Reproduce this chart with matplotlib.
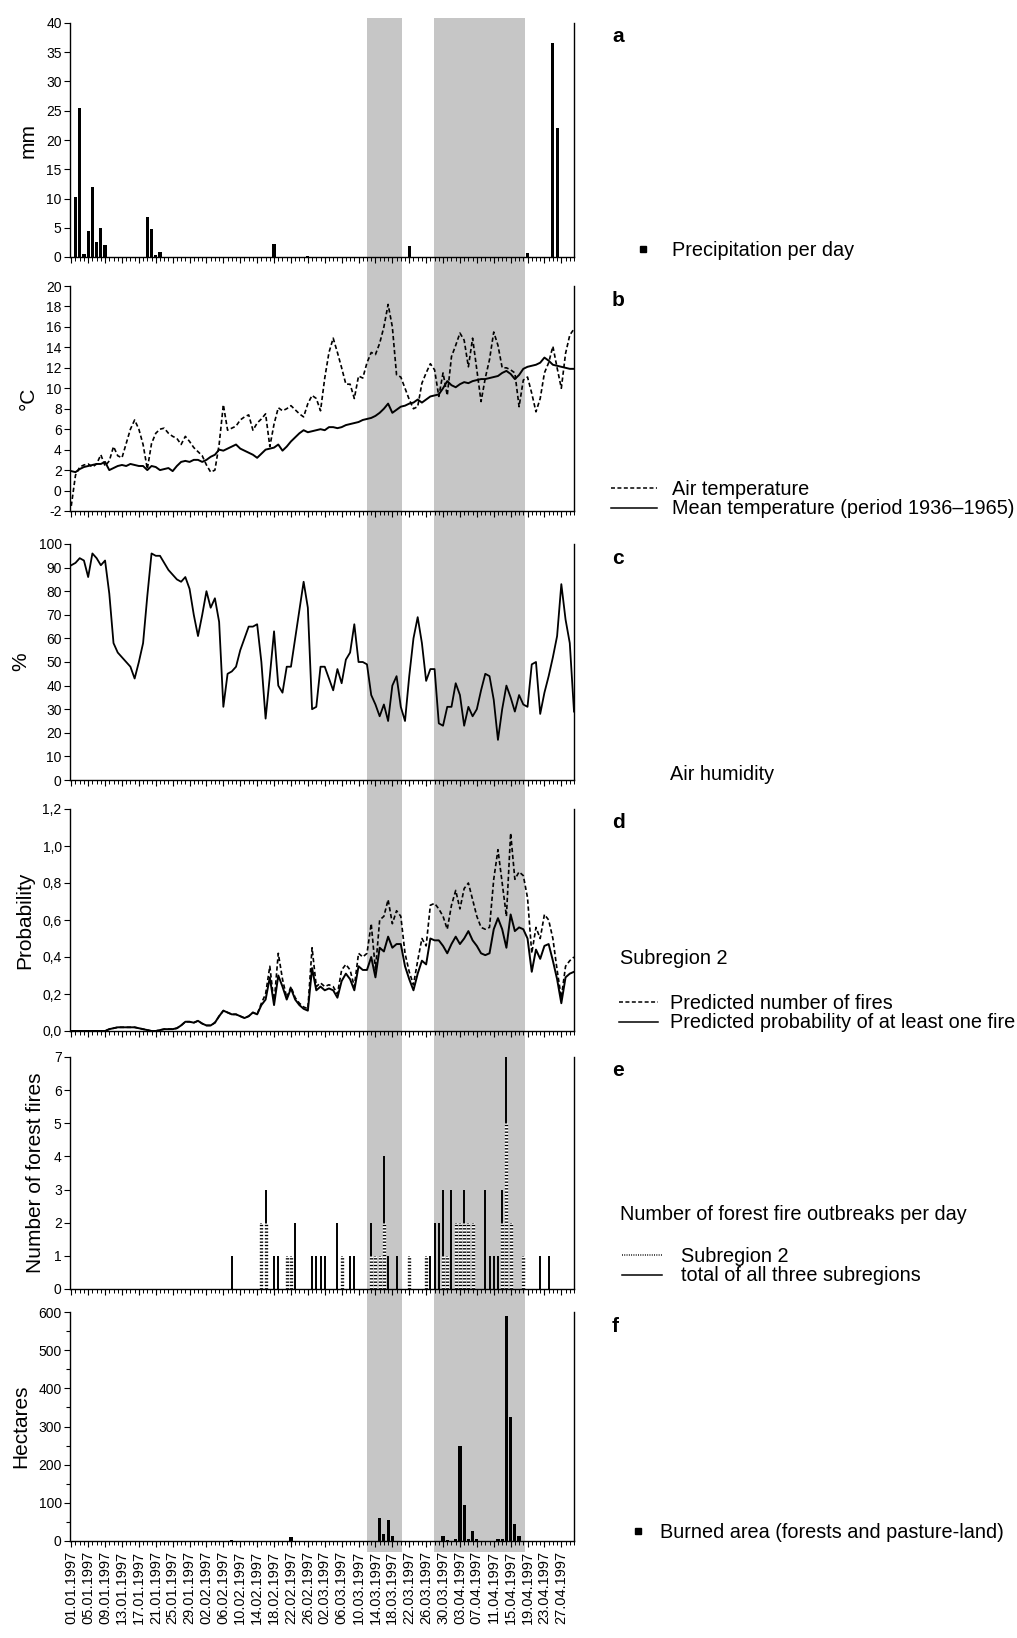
import numpy as np
import matplotlib.pyplot as plt
from matplotlib.lines import Line2D
from matplotlib.ticker import MultipleLocator, FuncFormatter

plt.rcParams['font.family'] = ['Liberation Sans', 'DejaVu Sans']
plt.rcParams['axes.unicode_minus'] = False

W, H = 1017, 1638

TICK_LABELS = ['01.01.1997', '05.01.1997', '09.01.1997', '13.01.1997', '17.01.1997',
               '21.01.1997', '25.01.1997', '29.01.1997', '02.02.1997', '06.02.1997',
               '10.02.1997', '14.02.1997', '18.02.1997', '22.02.1997', '26.02.1997',
               '02.03.1997', '06.03.1997', '10.03.1997', '14.03.1997', '18.03.1997',
               '22.03.1997', '26.03.1997', '30.03.1997', '03.04.1997', '07.04.1997',
               '11.04.1997', '15.04.1997', '19.04.1997', '23.04.1997', '27.04.1997']

# shaded periods (day index, 0 = 01.01.1997)
SHADED = [(70.0, 78.4), (85.8, 107.3)]

# a: precipitation (mm)
PRECIP_DAYS = [1, 2, 3, 4, 5, 6, 7, 8, 18, 19, 20, 21, 48, 56, 80, 108, 114, 115]
PRECIP_MM = [10.3, 25.5, 0.5, 4.5, 12.0, 2.5, 5.0, 2.0, 6.8, 4.8, 0.4, 0.8, 2.3, 0.2, 1.8, 0.7, 36.5, 22.0]

# b: temperature (daily, 120 days)
AIR_TEMP = [-1.5, 1.5, 2.3, 2.5, 2.6, 2.3, 2.6, 3.5, 2.4, 2.9,
            4.3, 3.4, 3.2, 4.6, 6.0, 6.9, 6.0, 4.5, 2.1, 4.6,
            5.6, 6.0, 6.1, 5.6, 5.3, 5.1, 4.5, 5.3, 4.8, 4.2,
            3.8, 3.4, 2.5, 1.8, 2.0, 4.5, 8.4, 5.9, 6.1, 6.3,
            6.9, 7.2, 7.4, 5.9, 6.6, 7.0, 7.5, 4.3, 6.5, 8.1,
            7.8, 8.0, 8.3, 7.9, 7.5, 7.2, 8.5, 9.3, 9.0, 7.8,
            11.0, 13.5, 14.9, 13.5, 12.0, 10.4, 10.4, 9.0, 11.2, 11.0,
            12.5, 13.5, 13.3, 14.4, 16.0, 18.2, 16.0, 11.3, 11.1, 10.0,
            8.9, 8.0, 8.2, 10.5, 11.5, 12.4, 11.8, 9.2, 11.5, 9.3,
            13.1, 14.2, 15.4, 14.7, 12.1, 14.9, 11.8, 8.7, 11.0, 12.8,
            15.5, 14.2, 12.0, 12.0, 11.8, 11.5, 8.2, 10.8, 11.1, 9.5,
            7.7, 9.0, 11.5, 12.5, 14.1, 12.0, 10.0, 13.4, 15.2, 15.8]
MEAN_TEMP = [1.9, 1.8, 2.1, 2.3, 2.4, 2.5, 2.6, 2.6, 2.8, 2.0,
             2.2, 2.4, 2.5, 2.4, 2.6, 2.5, 2.4, 2.4, 2.0, 2.4,
             2.3, 2.0, 2.1, 2.2, 1.9, 2.4, 2.8, 2.9, 2.8, 3.0,
             3.0, 2.8, 3.0, 3.3, 3.5, 4.0, 3.9, 4.1, 4.3, 4.5,
             4.1, 3.9, 3.7, 3.5, 3.2, 3.6, 4.0, 4.1, 4.2, 4.5,
             3.9, 4.3, 4.8, 5.2, 5.6, 5.9, 5.7, 5.8, 5.9, 6.0,
             5.9, 6.2, 6.2, 6.1, 6.2, 6.4, 6.5, 6.6, 6.7, 6.9,
             7.0, 7.1, 7.3, 7.6, 8.0, 8.5, 7.6, 7.9, 8.2, 8.3,
             8.5, 8.6, 8.9, 8.6, 8.9, 9.2, 9.3, 9.4, 10.0, 10.7,
             10.3, 10.1, 10.4, 10.6, 10.5, 10.7, 10.8, 10.9, 10.9, 11.0,
             11.1, 11.2, 11.5, 11.7, 11.4, 10.9, 11.3, 11.9, 12.1, 12.2,
             12.3, 12.5, 13.0, 12.7, 12.3, 12.2, 12.1, 12.0, 11.9, 11.9]

# c: air humidity (%)
HUMIDITY = [91, 92, 94, 93, 86, 96, 94, 91, 93, 79,
            58, 54, 52, 50, 48, 43, 50, 58, 78, 96,
            95, 95, 92, 89, 87, 85, 84, 86, 81, 70,
            61, 70, 80, 73, 77, 67, 31, 45, 46, 48,
            55, 60, 65, 65, 66, 50, 26, 44, 63, 40,
            37, 48, 48, 60, 72, 84, 73, 30, 31, 48,
            48, 43, 38, 47, 41, 51, 54, 66, 50, 50,
            49, 36, 32, 27, 32, 25, 40, 44, 31, 25,
            44, 60, 69, 58, 42, 47, 47, 24, 23, 31,
            31, 41, 36, 23, 31, 27, 30, 38, 45, 44,
            34, 17, 30, 40, 35, 29, 36, 32, 31, 49,
            50, 28, 37, 44, 52, 61, 83, 68, 58, 29]

# d: subregion 2 predictions
PRED_FIRES = [0, 0, 0, 0, 0, 0, 0, 0, 0, 0.01,
              0.015, 0.02, 0.02, 0.02, 0.02, 0.02, 0.015, 0.01, 0.005, 0.0,
              0.0, 0.005, 0.01, 0.01, 0.01, 0.015, 0.03, 0.05, 0.05, 0.045,
              0.055, 0.04, 0.03, 0.03, 0.045, 0.08, 0.11, 0.1, 0.09, 0.09,
              0.08, 0.07, 0.08, 0.1, 0.09, 0.15, 0.2, 0.35, 0.15, 0.42,
              0.28, 0.18, 0.24, 0.18, 0.15, 0.13, 0.12, 0.45, 0.24, 0.26,
              0.24, 0.25, 0.24, 0.2, 0.33, 0.36, 0.33, 0.24, 0.42, 0.4,
              0.42, 0.58, 0.33, 0.6, 0.62, 0.71, 0.58, 0.65, 0.62, 0.42,
              0.32, 0.25, 0.38, 0.5, 0.46, 0.68, 0.69, 0.66, 0.62, 0.55,
              0.68, 0.76, 0.66, 0.77, 0.8, 0.71, 0.62, 0.56, 0.55, 0.56,
              0.82, 0.98, 0.8, 0.62, 1.07, 0.82, 0.86, 0.84, 0.72, 0.42,
              0.56, 0.5, 0.63, 0.6, 0.5, 0.33, 0.18, 0.35, 0.38, 0.4]
PRED_PROB = [0, 0, 0, 0, 0, 0, 0, 0, 0, 0.01,
             0.015, 0.02, 0.02, 0.02, 0.02, 0.02, 0.015, 0.01, 0.005, 0.0,
             0.0, 0.005, 0.01, 0.01, 0.01, 0.015, 0.03, 0.05, 0.05, 0.045,
             0.055, 0.04, 0.03, 0.03, 0.045, 0.08, 0.11, 0.1, 0.09, 0.09,
             0.08, 0.07, 0.08, 0.1, 0.09, 0.14, 0.17, 0.29, 0.14, 0.3,
             0.24, 0.17, 0.23, 0.17, 0.14, 0.12, 0.11, 0.34, 0.22, 0.24,
             0.22, 0.23, 0.22, 0.18, 0.27, 0.31, 0.28, 0.22, 0.35, 0.33,
             0.33, 0.4, 0.29, 0.45, 0.43, 0.51, 0.45, 0.47, 0.47, 0.35,
             0.28, 0.22, 0.31, 0.38, 0.36, 0.5, 0.49, 0.49, 0.46, 0.42,
             0.47, 0.51, 0.47, 0.5, 0.54, 0.49, 0.46, 0.42, 0.41, 0.42,
             0.55, 0.61, 0.55, 0.45, 0.63, 0.54, 0.56, 0.55, 0.5, 0.32,
             0.44, 0.39, 0.46, 0.47, 0.38, 0.28, 0.15, 0.29, 0.31, 0.32]

# e: forest fire outbreaks per day
FIRE_DAYS = [38, 45, 46, 48, 49, 51, 52, 53, 57, 58, 59, 60, 63, 64, 66, 67,
             71, 72, 73, 74, 75, 77, 80, 84, 85, 86, 87, 88, 89, 90, 91, 92,
             93, 94, 95, 98, 99, 100, 101, 102, 103, 104, 107, 111, 113]
FIRES_TOTAL = [1, 2, 3, 1, 1, 1, 1, 2, 1, 1, 1, 1, 2, 1, 1, 1,
               2, 1, 1, 4, 1, 1, 1, 1, 1, 2, 2, 3, 1, 3, 2, 2,
               3, 2, 2, 3, 1, 1, 1, 3, 7, 2, 1, 1, 1]
SUB2_DAYS = [45, 46, 51, 52, 64, 71, 72, 73, 74, 80, 84, 88, 89, 91, 92, 93,
             94, 95, 102, 103, 104, 107]
FIRES_SUB2 = [2, 2, 1, 1, 1, 1, 1, 1, 2, 1, 1, 1, 1, 2, 2, 2,
              2, 2, 2, 5, 2, 1]

# f: burned area (ha)
AREA_DAYS = [38, 52, 60, 73, 74, 75, 76, 88, 89, 91, 92, 93, 94, 95, 96,
             101, 102, 103, 104, 105, 106]
AREA_HA = [2, 10, 1, 60, 18, 55, 12, 12, 3, 4, 250, 95, 6, 25, 4,
           4, 6, 590, 325, 45, 12]


def px(x, y):
    return x / W, 1 - y / H


fig = plt.figure(figsize=(W / 100, H / 100), dpi=100)

# panel boxes: (top, bottom) in pixels
boxes = [(23, 257), (286, 511), (544, 780), (809, 1031), (1057, 1289), (1312, 1541)]
left, right = 70, 574
axes = []
for top, bottom in boxes:
    ax = fig.add_axes([left / W, 1 - bottom / H, (right - left) / W, (bottom - top) / H])
    ax.set_facecolor('none')
    axes.append(ax)

days = np.arange(120)
for i, ax in enumerate(axes):
    ax.set_xlim(-0.3, 119)
    ax.spines['top'].set_visible(False)
    for s in ('left', 'right', 'bottom'):
        ax.spines[s].set_linewidth(1.0)
    ax.xaxis.set_major_locator(MultipleLocator(4))
    ax.xaxis.set_minor_locator(MultipleLocator(1))
    ax.tick_params(axis='x', which='major', direction='out', length=4, width=0.8)
    ax.tick_params(axis='x', which='minor', direction='out', length=3, width=0.7)
    ax.tick_params(axis='y', which='both', direction='out', length=4, width=0.8,
                   labelsize=10, pad=2)
    ax.tick_params(axis='y', which='minor', length=3)
    if i < len(axes) - 1:
        ax.tick_params(axis='x', labelbottom=False)
        gap = ax.get_position().y0 - axes[i + 1].get_position().y1
        ymin = -gap / ax.get_position().height
    else:
        ymin = -0.05
    ymax = 1.02 if i == 0 else 1.0
    for x0, x1 in SHADED:
        ax.axvspan(x0, x1, ymin=ymin, ymax=ymax, color='#c6c6c6', lw=0,
                   clip_on=False, zorder=0)

ylabel_kw = dict(fontsize=15, labelpad=6)

# a
ax = axes[0]
ax.bar(PRECIP_DAYS, PRECIP_MM, width=0.75, color='black')
ax.set_ylim(0, 40)
ax.yaxis.set_major_locator(MultipleLocator(5))
ax.set_ylabel('mm', **ylabel_kw)

# b
ax = axes[1]
ax.plot(np.arange(len(AIR_TEMP)), AIR_TEMP, color='black', lw=1.2, ls=(0, (2.6, 1.6)))
ax.plot(np.arange(len(MEAN_TEMP)), MEAN_TEMP, color='black', lw=1.4)
ax.set_ylim(-2, 20)
ax.yaxis.set_major_locator(MultipleLocator(2))
ax.set_ylabel('°C', **ylabel_kw)

# c
ax = axes[2]
ax.plot(np.arange(len(HUMIDITY)), HUMIDITY, color='black', lw=1.3)
ax.set_ylim(0, 100)
ax.yaxis.set_major_locator(MultipleLocator(10))
ax.set_ylabel('%', **ylabel_kw)

# d
ax = axes[3]
ax.plot(np.arange(len(PRED_FIRES)), PRED_FIRES, color='black', lw=1.2, ls=(0, (2.6, 1.6)))
ax.plot(np.arange(len(PRED_PROB)), PRED_PROB, color='black', lw=1.4)
ax.set_ylim(0, 1.2)
ax.yaxis.set_major_locator(MultipleLocator(0.2))
ax.yaxis.set_major_formatter(FuncFormatter(lambda v, p: f'{v:.1f}'.replace('.', ',')))
ax.set_ylabel('Probability', **ylabel_kw)

# e
ax = axes[4]
ax.vlines(FIRE_DAYS, 0, FIRES_TOTAL, color='black', lw=1.4)
ax.vlines(SUB2_DAYS, 0, FIRES_SUB2, color='white', lw=2.4)
ax.vlines(SUB2_DAYS, 0, FIRES_SUB2, color='black', lw=2.4, linestyles=[(0, (0.4, 0.6))])
ax.set_ylim(0, 7)
ax.yaxis.set_major_locator(MultipleLocator(1))
ax.set_ylabel('Number of forest fires', **ylabel_kw)

# f
ax = axes[5]
ax.bar(AREA_DAYS, AREA_HA, width=0.75, color='black')
ax.set_ylim(0, 600)
ax.yaxis.set_major_locator(MultipleLocator(100))
ax.yaxis.set_minor_locator(MultipleLocator(50))
ax.set_xticks(days[::4])
ax.set_xticklabels(TICK_LABELS, rotation=90, fontsize=10.5)
ax.tick_params(axis='x', which='major', pad=3)
ax.set_ylabel('Hectares', **ylabel_kw)

# panel letters
for ax, letter, (top, bottom) in zip(axes, 'abcdef', boxes):
    fig.text(*px(612, top + 14), letter, fontsize=15, fontweight='bold', va='center')

fs = 14.3
leg_kw = dict(frameon=False, fontsize=fs, borderpad=0, borderaxespad=0,
              loc='center left', bbox_transform=fig.transFigure, labelspacing=0.05)

sq = Line2D([], [], marker='s', color='black', ls='none', markersize=5)
axes[0].legend([sq], ['Precipitation per day'], bbox_to_anchor=px(635, 250),
               handlelength=0.8, handletextpad=1.06, **leg_kw)

h_dash = Line2D([], [], color='black', lw=1.1, ls=(0, (2.6, 1.6)))
h_solid = Line2D([], [], color='black', lw=1.1)
axes[1].legend([h_dash, h_solid], ['Air temperature', 'Mean temperature (period 1936\u20131965)'],
               bbox_to_anchor=px(611, 499), handlelength=2.3, handletextpad=0.75, **leg_kw)

fig.text(*px(670, 775), 'Air humidity', fontsize=fs, va='center')

fig.text(*px(620, 958), 'Subregion 2', fontsize=fs, va='center')
axes[3].legend([h_dash, h_solid], ['Predicted number of fires',
                                   'Predicted probability of at least one fire'],
               bbox_to_anchor=px(619, 1013), handlelength=1.96, handletextpad=0.6, **leg_kw)

fig.text(*px(620, 1215), 'Number of forest fire outbreaks per day', fontsize=fs, va='center')
h_dot = Line2D([], [], color='black', lw=1.1, ls=(0, (0.6, 0.9)))
axes[4].legend([h_dot, h_solid], ['Subregion 2', 'total of all three subregions'],
               bbox_to_anchor=px(622, 1266), handlelength=2.0, handletextpad=0.95, **leg_kw)

axes[5].legend([sq], ['Burned area (forests and pasture-land)'], bbox_to_anchor=px(630, 1532),
               handlelength=0.8, handletextpad=0.71, **leg_kw)

fig.savefig('out.png', dpi=100)
